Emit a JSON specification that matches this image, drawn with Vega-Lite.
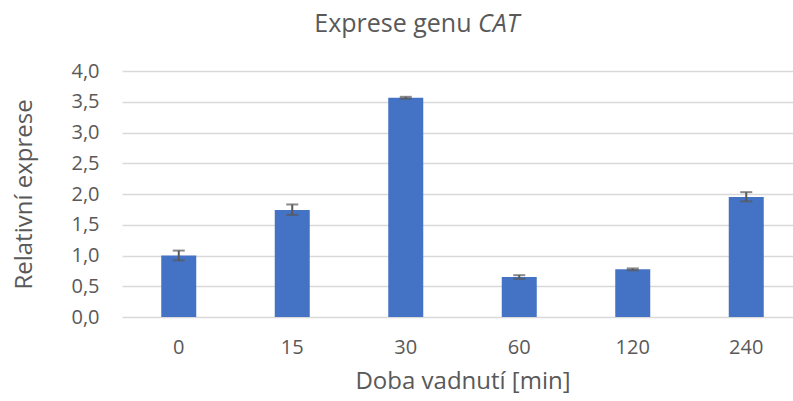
{
  "$schema": "https://vega.github.io/schema/vega-lite/v6.json",
  "width": 671,
  "height": 246,
  "autosize": {"type": "none"},
  "padding": {"left": 122, "top": 71, "right": 0, "bottom": 84},
  "background": "white",
  "config": {
    "view": {"stroke": null},
    "font": "Open Sans",
    "axisY": {
      "labelOverlap": false,
      "domain": false,
      "ticks": false,
      "grid": true,
      "gridColor": "#D9D9D9",
      "gridWidth": 1.4,
      "labelPadding": 23,
      "labelFont": "Open Sans",
      "labelFontSize": 20,
      "labelColor": "#595959",
      "titleFont": "Open Sans",
      "titleFontSize": 24,
      "titleFontWeight": "normal",
      "titleColor": "#595959",
      "titlePadding": 34
    }
  },
  "data": {
    "values": [
      {"t": "0", "v": 1.0, "lo": 0.92, "hi": 1.08},
      {"t": "15", "v": 1.74, "lo": 1.66, "hi": 1.83},
      {"t": "30", "v": 3.565, "lo": 3.55, "hi": 3.58},
      {"t": "60", "v": 0.65, "lo": 0.62, "hi": 0.68},
      {"t": "120", "v": 0.775, "lo": 0.76, "hi": 0.79},
      {"t": "240", "v": 1.95, "lo": 1.88, "hi": 2.03}
    ]
  },
  "encoding": {
    "x": {
      "field": "t",
      "type": "nominal",
      "sort": null,
      "scale": {"range": [0, 681], "paddingInner": 0, "paddingOuter": 0},
      "axis": {
        "title": "Doba vadnutí [min]",
        "labelAngle": 0,
        "domain": false,
        "ticks": false,
        "labelPadding": 20,
        "labelFont": "Open Sans",
        "labelFontSize": 20,
        "labelColor": "#595959",
        "titleFont": "Open Sans",
        "titleFontSize": 24,
        "titleFontWeight": "normal",
        "titleColor": "#595959",
        "titlePadding": 12
      }
    }
  },
  "layer": [
    {
      "mark": {"type": "bar", "size": 35, "color": "#4472C4"},
      "encoding": {
        "y": {
          "field": "v",
          "type": "quantitative",
          "scale": {"domain": [0, 4]},
          "axis": {"title": "Relativní exprese", "values": [0, 0.5, 1, 1.5, 2, 2.5, 3, 3.5, 4], "labelExpr": "replace(format(datum.value, '.1f'), '.', ',')"}
        }
      }
    },
    {
      "mark": {"type": "rule", "color": "#595959", "strokeWidth": 2},
      "encoding": {
        "y": {"field": "lo", "type": "quantitative", "axis": {"title": "Relativní exprese", "values": [0, 0.5, 1, 1.5, 2, 2.5, 3, 3.5, 4], "labelExpr": "replace(format(datum.value, '.1f'), '.', ',')"}},
        "y2": {"field": "hi"}
      }
    },
    {
      "mark": {"type": "tick", "size": 12, "thickness": 2, "color": "#595959"},
      "encoding": {"y": {"field": "lo", "type": "quantitative", "axis": {"title": "Relativní exprese", "values": [0, 0.5, 1, 1.5, 2, 2.5, 3, 3.5, 4], "labelExpr": "replace(format(datum.value, '.1f'), '.', ',')"}}}
    },
    {
      "mark": {"type": "tick", "size": 12, "thickness": 2, "color": "#595959"},
      "encoding": {"y": {"field": "hi", "type": "quantitative", "axis": {"title": "Relativní exprese", "values": [0, 0.5, 1, 1.5, 2, 2.5, 3, 3.5, 4], "labelExpr": "replace(format(datum.value, '.1f'), '.', ',')"}}}
    },
    {
      "data": {"values": [{}]},
      "mark": {
        "type": "text",
        "text": "Exprese genu",
        "font": "Open Sans",
        "fontSize": 25,
        "fontStyle": "normal",
        "color": "#595959",
        "align": "right",
        "baseline": "alphabetic",
        "dx": 9,
        "dy": -39
      },
      "encoding": {
        "x": {"datum": "60", "bandPosition": 0},
        "y": {"datum": 4, "type": "quantitative", "axis": {"title": "Relativní exprese", "values": [0, 0.5, 1, 1.5, 2, 2.5, 3, 3.5, 4], "labelExpr": "replace(format(datum.value, '.1f'), '.', ',')"}}
      }
    },
    {
      "data": {"values": [{}]},
      "mark": {
        "type": "text",
        "text": "CAT",
        "font": "Open Sans",
        "fontSize": 25,
        "fontStyle": "italic",
        "color": "#595959",
        "align": "left",
        "baseline": "alphabetic",
        "dx": 15.5,
        "dy": -39
      },
      "encoding": {
        "x": {"datum": "60", "bandPosition": 0},
        "y": {"datum": 4, "type": "quantitative", "axis": {"title": "Relativní exprese", "values": [0, 0.5, 1, 1.5, 2, 2.5, 3, 3.5, 4], "labelExpr": "replace(format(datum.value, '.1f'), '.', ',')"}}
      }
    }
  ]
}
